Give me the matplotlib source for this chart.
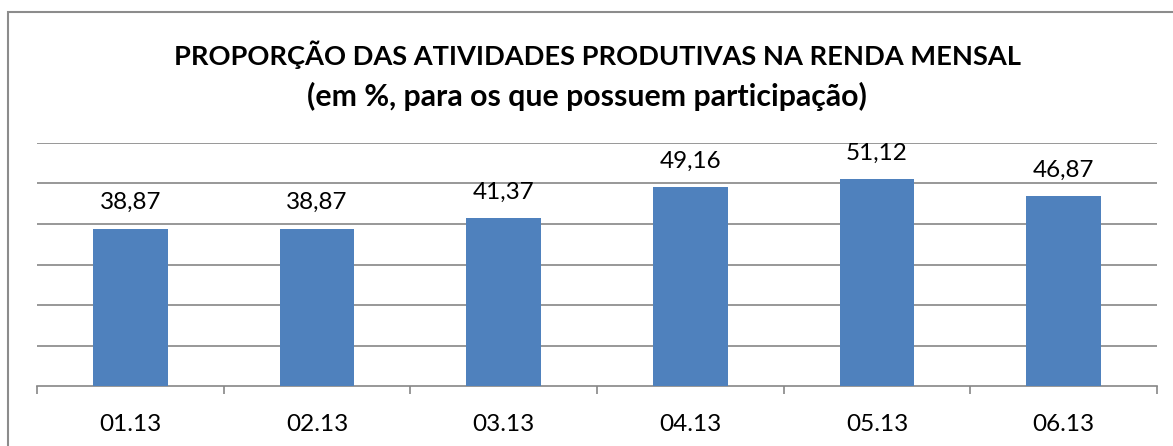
import matplotlib.pyplot as plt
from matplotlib.patches import Rectangle

# ======================
# DATA
# ======================
months = ['01.13', '02.13', '03.13', '04.13', '05.13', '06.13']
values = [38.87, 38.87, 41.37, 49.16, 51.12, 46.87]
value_labels = ['38,87', '38,87', '41,37', '49,16', '51,12', '46,87']

title_1 = 'PROPORÇÃO DAS ATIVIDADES PRODUTIVAS NA RENDA MENSAL'
title_2 = '(em %, para os que possuem participação)'

plt.rcParams['font.family'] = ['Lato', 'DejaVu Sans']

fig = plt.figure(figsize=(11.73, 4.46), dpi=100)
fig.patch.set_facecolor('white')

# outer chart border
fig.patches.append(Rectangle((8 / 1173, -0.05), 1.2, 1.05 - 12 / 446, transform=fig.transFigure,
                             fill=False, edgecolor='#8c8c8c', linewidth=1.5))

ax = fig.add_axes([37 / 1173, 1 - 386 / 446, (1157 - 37) / 1173, (386 - 143) / 446])
x = range(len(months))
ax.bar(x, values, width=0.4, color='#4f81bd', zorder=3)
ax.set_xlim(-0.5, len(months) - 0.5)
ax.set_ylim(0, 60)
ax.set_yticks(range(10, 61, 10))
ax.set_yticklabels([])
ax.tick_params(axis='y', length=0)
ax.grid(axis='y', color='#868686', linewidth=1.2, zorder=0)

for s in ['left', 'top', 'right']:
    ax.spines[s].set_visible(False)
ax.spines['bottom'].set_color('#868686')
ax.spines['bottom'].set_linewidth(1.2)

# ticks at category boundaries, labels at centers
ax.set_xticks([i - 0.5 for i in range(len(months) + 1)])
ax.set_xticklabels([])
ax.tick_params(axis='x', length=6, width=1.2, color='#868686')
ax.set_xticks(list(x), minor=True)
ax.set_xticklabels(months, minor=True, fontsize=17.5)
ax.tick_params(axis='x', which='minor', length=0, pad=20)

for i, v in enumerate(values):
    ax.annotate(value_labels[i], (i, v), xytext=(0, 11), textcoords='offset points',
                ha='center', va='bottom', fontsize=17.5)

fig.text(0.5 + 11 / 1173, 1 - 55 / 446, title_1, ha='center', va='center', fontsize=19.6,
         fontweight='bold')
fig.text(0.5, 1 - 96 / 446, title_2, ha='center', va='center', fontsize=21.8,
         fontweight='bold')

fig.savefig('out.png', dpi=100)
